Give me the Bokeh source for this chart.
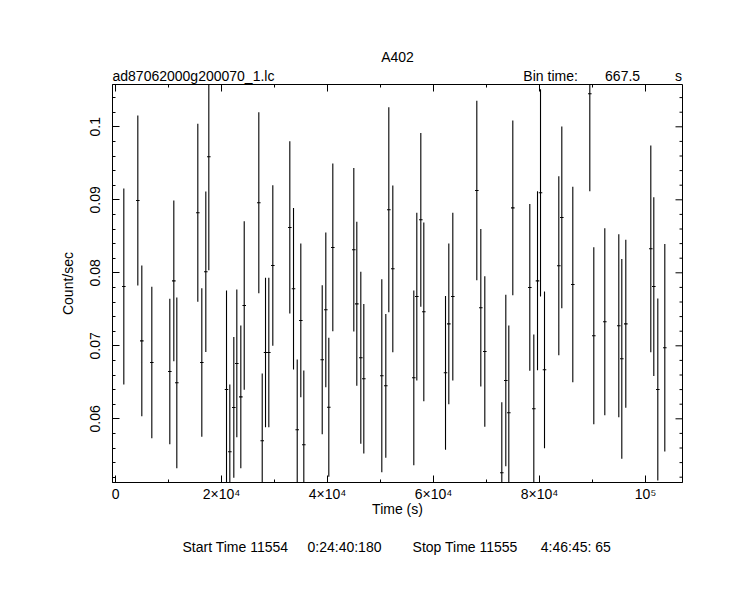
import numpy as np
from bokeh.plotting import figure
from bokeh.models import (Range1d, LinearAxis, SingleIntervalTicker,
                          CustomJSTickFormatter, ColumnDataSource, Title)
from bokeh.embed import file_html
from bokeh.resources import INLINE

# ---- data ----
BIN_TIME = 667.5
time_s = [1566, 4208, 4962, 6849, 10245, 11000, 11566, 15528, 16283, 17038,
          17604, 20943, 21566, 22321, 22887, 23642, 24283, 27038, 27679, 28302,
          28925, 29679, 32887, 33585, 34283, 34962, 35528, 39000, 39679, 40245,
          41000, 44962, 45528, 46283, 46849, 50245, 51000, 51566, 52321, 56283,
          56849, 57604, 58170, 62264, 62887, 63642, 68170, 68925, 69679, 72887,
          73642, 74208, 74962, 78170, 78925, 79623, 80189, 80943, 83642, 84208,
          86283, 89491, 90245, 92321, 94962, 95528, 96283, 101000, 101566, 102321,
          103642]
rate = [0.07812, 0.08990, 0.07068, 0.06771, 0.06648, 0.07890, 0.06493, 0.08822, 0.06771, 0.08014,
        0.09589, 0.06401, 0.05548, 0.06155, 0.06758, 0.06301, 0.07552, 0.08959, 0.05699, 0.06908,
        0.06908, 0.08100, 0.08621, 0.07781, 0.05849, 0.07347, 0.05644, 0.06808, 0.07493, 0.06159,
        0.08347, 0.08315, 0.07575, 0.06836, 0.06548, 0.06589, 0.06452, 0.08863, 0.08055, 0.06562,
        0.07675, 0.08726, 0.07466, 0.06630, 0.07301, 0.07675, 0.09127, 0.07521, 0.06922, 0.05260,
        0.06525, 0.06082, 0.08890, 0.07799, 0.06137, 0.07890, 0.09096, 0.06671, 0.08096, 0.08758,
        0.07840, 0.10452, 0.07137, 0.07329, 0.07274, 0.06822, 0.07301, 0.08329, 0.07812, 0.06401,
        0.06973]
err = [0.01342, 0.01164, 0.01032, 0.01039, 0.00998, 0.01100, 0.01169, 0.01219, 0.01016, 0.01100,
       0.01553, 0.01356, 0.00922, 0.00964, 0.01012, 0.00977, 0.01153, 0.01240, 0.00922, 0.01025,
       0.01025, 0.01100, 0.01180, 0.01107, 0.00963, 0.01053, 0.01018, 0.01021, 0.01060, 0.00952,
       0.01149, 0.01119, 0.01123, 0.01178, 0.01025, 0.01322, 0.00984, 0.01404, 0.01142, 0.01197,
       0.01149, 0.01190, 0.01224, 0.01053, 0.01100, 0.01149, 0.01230, 0.01080, 0.01032, 0.00967,
       0.01176, 0.01196, 0.01196, 0.01142, 0.01018, 0.01226, 0.01420, 0.01073, 0.01226, 0.01245,
       0.01340, 0.01334, 0.01212, 0.01281, 0.01253, 0.01368, 0.01151, 0.01416, 0.01224, 0.01247,
       0.01422]

title_text = "A402"
file_text = "ad87062000g200070_1.lc"
bin_label = "Bin time:"
bin_unit = "s"
start_text = ["Start Time 11554", "0:24:40:180"]
stop_text = ["Stop Time 11555", "4:46:45: 65"]
x_label = "Time (s)"
y_label = "Count/sec"

FONT = "Liberation Sans"
FS = 14
X0, X1 = -570, 106980
Y0, Y1 = 0.051274, 0.105795
FRAME_L = 112

# Arial/Liberation Sans advance widths (1/1000 em) for padding with no-break spaces
_W = {c: 556 for c in "0123456789_abdegnop"}
_W.update({" ": 278, "\u00a0": 278, ":": 278, ".": 278, "c": 500, "s": 500, "i": 222,
           "l": 222, "m": 833, "r": 333, "t": 278, "A": 667, "B": 667, "S": 667, "T": 611})

def tw(s):
    return sum(_W.get(c, 556) for c in s) * FS / 1000.0

def padded(pieces, xs):
    """Join pieces with no-break spaces so each starts near its page x."""
    out, cur = pieces[0], xs[0] + tw(pieces[0])
    nb = 278 * FS / 1000.0
    for piece, x in zip(pieces[1:], xs[1:]):
        n = max(1, int(round((x - cur) / nb)))
        out += "\u00a0" * n + piece
        cur += n * nb + tw(piece)
    return out

src = ColumnDataSource(dict(
    t=time_s,
    lo=[r - e for r, e in zip(rate, err)],
    hi=[r + e for r, e in zip(rate, err)],
    r=rate,
    t0=[t - BIN_TIME / 2 for t in time_s],
    t1=[t + BIN_TIME / 2 for t in time_s],
))

p = figure(width=735, height=600, output_backend="svg", toolbar_location=None,
           x_range=Range1d(X0, X1), y_range=Range1d(Y0, Y1),
           min_border_left=FRAME_L, min_border_right=53, min_border_top=84,
           min_border_bottom=118, x_axis_location=None, y_axis_location=None)
p.background_fill_color = "white"
p.border_fill_color = "white"
p.outline_line_color = "black"
p.outline_line_width = 1
p.xgrid.visible = False
p.ygrid.visible = False

p.segment(x0="t", y0="lo", x1="t", y1="hi", source=src, line_color="black", line_width=1.1)
p.segment(x0="t0", y0="r", x1="t1", y1="r", source=src, line_color="black", line_width=1.1)

xfmt = CustomJSTickFormatter(code="""
if (Math.abs(tick) < 1) return "0";
if (Math.abs(tick - 100000) < 1) return "10\u2075";
return Math.round(tick/10000) + "\u00d710\u2074";
""")
yfmt = CustomJSTickFormatter(code="return (Math.round(tick*100)/100).toString();")

def style(ax):
    ax.axis_line_color = "black"
    ax.major_tick_in = 7
    ax.major_tick_out = 0
    ax.minor_tick_in = 3
    ax.minor_tick_out = 0
    ax.major_tick_line_color = "black"
    ax.minor_tick_line_color = "black"
    ax.major_label_text_font = FONT
    ax.major_label_text_font_size = "%dpx" % FS
    ax.major_label_text_color = "black"
    ax.axis_label_text_font = FONT
    ax.axis_label_text_font_size = "%dpx" % FS
    ax.axis_label_text_font_style = "normal"
    ax.axis_label_text_color = "black"

X_MAJOR, X_MINOR_N = 20000, 2
Y_MAJOR, Y_MINOR_N = 0.01, 5

xb = LinearAxis(ticker=SingleIntervalTicker(interval=X_MAJOR, num_minor_ticks=X_MINOR_N),
                formatter=xfmt, axis_label=x_label)
style(xb)
xb.major_label_standoff = 3
xb.axis_label_standoff = -4
p.add_layout(xb, "below")

yl = LinearAxis(ticker=SingleIntervalTicker(interval=Y_MAJOR, num_minor_ticks=Y_MINOR_N),
                formatter=yfmt, axis_label=y_label)
style(yl)
yl.major_label_orientation = "vertical"
yl.major_label_standoff = 12
yl.axis_label_standoff = 12
p.add_layout(yl, "left")

# mirrored inward ticks on the top and right edges (same tick intervals)
x_step = X_MAJOR / X_MINOR_N
x_all = np.arange(np.ceil(X0 / x_step) * x_step, X1, x_step)
x_maj = [v for v in x_all if abs(v / X_MAJOR - round(v / X_MAJOR)) < 1e-6]
x_min = [v for v in x_all if abs(v / X_MAJOR - round(v / X_MAJOR)) >= 1e-6]
y_step = Y_MAJOR / Y_MINOR_N
y_all = np.arange(np.ceil(Y0 / y_step) * y_step, Y1, y_step)
y_maj = [v for v in y_all if abs(v / Y_MAJOR - round(v / Y_MAJOR)) < 1e-6]
y_min = [v for v in y_all if abs(v / Y_MAJOR - round(v / Y_MAJOR)) >= 1e-6]

p.ray(x=x_maj, y=[Y1] * len(x_maj), length=7, length_units="screen",
      angle=-np.pi / 2, line_color="black", line_width=1)
p.ray(x=x_min, y=[Y1] * len(x_min), length=3, length_units="screen",
      angle=-np.pi / 2, line_color="black", line_width=1)
p.ray(x=[X1] * len(y_maj), y=y_maj, length=7, length_units="screen",
      angle=np.pi, line_color="black", line_width=1)
p.ray(x=[X1] * len(y_min), y=y_min, length=3, length_units="screen",
      angle=np.pi, line_color="black", line_width=1)

def title(text, align="left", offset=0, standoff=0):
    return Title(text=text, align=align, offset=offset, standoff=standoff,
                 text_font=FONT, text_font_size="%dpx" % FS,
                 text_font_style="normal", text_color="black")

# header: first added sits next to the frame
head_line = padded([file_text, bin_label, "%.1f" % BIN_TIME, bin_unit],
                   [112, 523, 605, 676])
p.add_layout(title(head_line, "left", 0, 1), "above")
p.add_layout(title(title_text, "center", 0, 2), "above")

# footer below the x axis
foot_line = padded([start_text[0], start_text[1], stop_text[0], stop_text[1]],
                   [182, 307, 412, 542])
p.add_layout(title(foot_line, "left", 182 - FRAME_L, 35), "below")

open("out.html", "w").write(file_html(p, INLINE))
